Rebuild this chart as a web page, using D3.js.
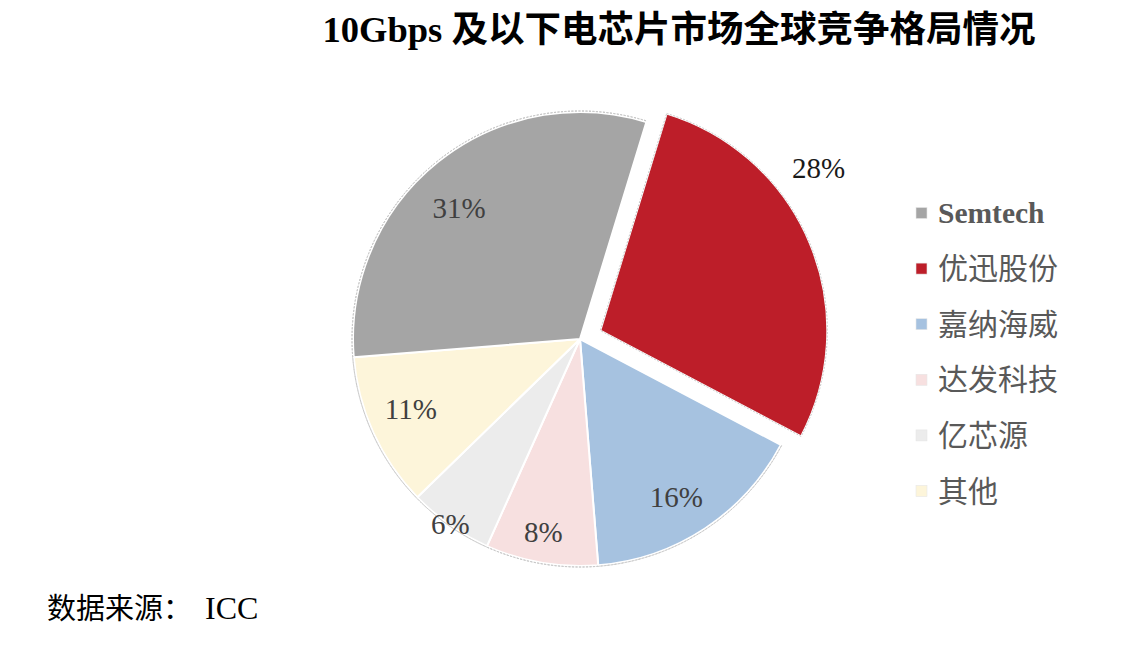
<!DOCTYPE html>
<html><head><meta charset="utf-8">
<script src="https://cdn.jsdelivr.net/npm/d3@7"></script>
<style>body{margin:0;background:#fff}svg{display:block}</style>
</head><body>
<svg id="chart" width="1124" height="652"></svg>
<script>
const categories = ["Semtech", "优迅股份", "嘉纳海威", "达发科技", "亿芯源", "其他"];
const shares = [31, 28, 16, 8, 6, 11];
const colors = ["#a5a5a5", "#bd1e29", "#a6c2e0", "#f7e0e0", "#ececec", "#fdf5da"];
const labelColors = ["#404040", "#1a1a1a", "#404040", "#404040", "#404040", "#404040"];
const title = "10Gbps 及以下电芯片市场全球竞争格局情况";
const sourceLabel = "数据来源：";
const sourceName = "ICC";

// layout configuration
const cx = 580, cy = 339, R = 227, explode = 22;
const explodedIndex = 1;
const startDeg = 17; // where 优迅股份 begins (clockwise from top)
const labelPlace = [ {r:178, da:-4}, {r:272, da:-14}, {r:185, da:2}, {r:196, da:1}, {r:226, da:0}, {r:183, da:2} ];

const svg = d3.select("#chart");
const rad = d => d * Math.PI / 180;

const order = [1, 2, 3, 4, 5, 0];
const pieGen = d3.pie().sort(null).value(i => shares[i])
  .startAngle(rad(startDeg)).endAngle(rad(startDeg + 360));
const arcs = pieGen(order);
const arcGen = d3.arc().innerRadius(0).outerRadius(R);

const g = svg.append("g").attr("transform", `translate(${cx},${cy})`);

arcs.forEach(a => {
  const i = a.data;
  const mid = (a.startAngle + a.endAngle) / 2;
  const off = i === explodedIndex ? explode : 0;
  const ox = Math.sin(mid) * off, oy = -Math.cos(mid) * off;
  const sg = g.append("g").attr("transform", `translate(${ox},${oy})`);
  sg.append("path").attr("d", arcGen(a)).attr("fill", colors[i])
    .attr("stroke", "#fff").attr("stroke-width", 2).attr("stroke-linejoin", "round");
  if (i === explodedIndex) {
    sg.append("path").attr("d", arcGen(a)).attr("fill", "none")
      .attr("stroke", "#c8c8c8").attr("stroke-width", 1).attr("stroke-dasharray", "2,1.5");
  } else {
    sg.append("path").attr("d", d3.arc().innerRadius(R + 1).outerRadius(R + 1)(a)).attr("fill", "none")
      .attr("stroke", "#c8c8c8").attr("stroke-width", 1).attr("stroke-dasharray", "2,1.5");
  }
  const lp = labelPlace[i];
  const la = mid + rad(lp.da);
  sg.append("text")
    .attr("x", Math.sin(la) * lp.r).attr("y", -Math.cos(la) * lp.r)
    .attr("text-anchor", "middle").attr("dominant-baseline", "central")
    .attr("font-family", "'Liberation Serif','Times New Roman',serif")
    .attr("font-size", 29).attr("fill", labelColors[i])
    .text(shares[i] + "%");
});

// title
svg.append("text").attr("x", 679).attr("y", 42).attr("text-anchor", "middle")
  .attr("font-family", "'Liberation Serif','Noto Sans CJK SC',serif")
  .attr("font-weight", "bold").attr("font-size", 36.5).attr("fill", "#000")
  .text(title);

// legend
const lg = svg.append("g").attr("transform", "translate(916,213)");
categories.forEach((c, i) => {
  const row = lg.append("g").attr("transform", `translate(0,${i * 55.6})`);
  row.append("rect").attr("x", 0).attr("y", -5.5).attr("width", 11).attr("height", 11)
    .attr("fill", colors[i]).attr("stroke", "#e6e6e6").attr("stroke-width", 0.6);
  row.append("text").attr("x", 22).attr("y", 0).attr("dominant-baseline", "central")
    .attr("font-family", "'Liberation Serif','Noto Sans CJK SC',serif")
    .attr("font-weight", i === 0 ? "bold" : "normal")
    .attr("font-size", i === 0 ? 29.5 : 30).attr("fill", "#595959").text(c);
});

// source
const st = svg.append("text").attr("x", 47).attr("y", 619)
  .attr("font-family", "'Liberation Serif','Noto Sans CJK SC',serif")
  .attr("font-size", 29).attr("fill", "#000");
st.append("tspan").text(sourceLabel);
st.append("tspan").attr("x", 205).attr("font-size", 32).text(sourceName);
</script>
</body></html>
